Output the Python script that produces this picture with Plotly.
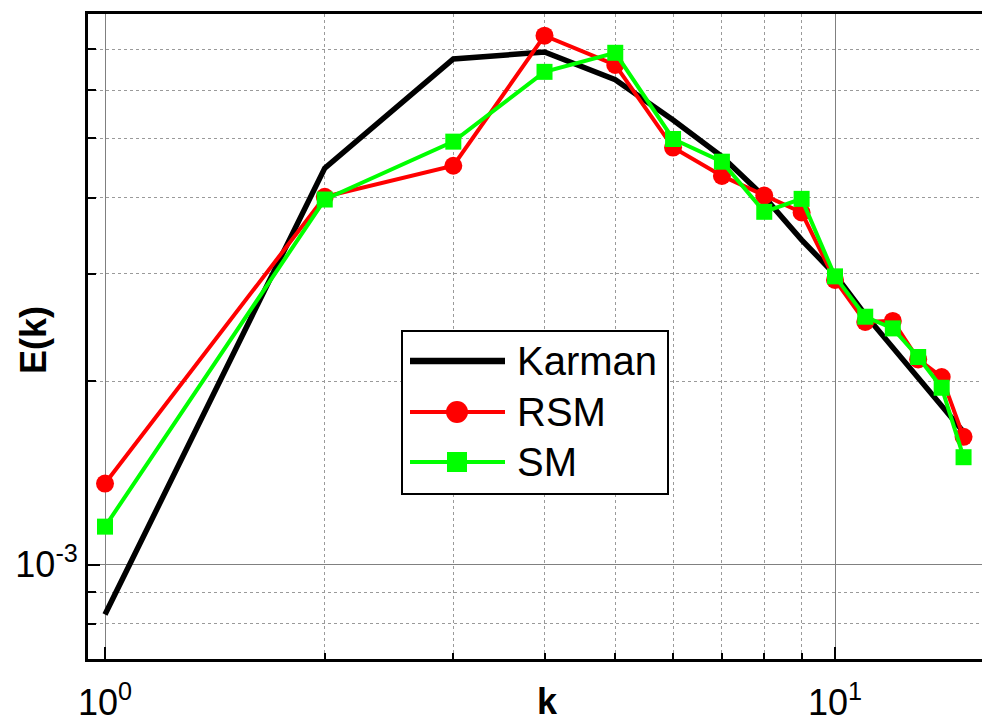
import plotly.graph_objects as go

# ---- data ----
k = [1, 2, 3, 4, 5, 6, 7, 8, 9, 10, 11, 12, 13, 14, 15]
karman = [8.28e-4, 4.47e-3, 6.75e-3, 6.93e-3, 6.24e-3, 5.36e-3, 4.67e-3, 4.01e-3,
          3.41e-3, 2.99e-3, 2.57e-3, 2.27e-3, 2.02e-3, 1.81e-3, 1.65e-3]
rsm = [1.358e-3, 4.01e-3, 4.51e-3, 7.37e-3, 6.60e-3, 4.83e-3, 4.34e-3, 4.03e-3,
       3.78e-3, 2.93e-3, 2.50e-3, 2.51e-3, 2.17e-3, 2.03e-3, 1.62e-3]
sm = [1.154e-3, 3.97e-3, 4.94e-3, 6.43e-3, 6.91e-3, 4.99e-3, 4.58e-3, 3.79e-3,
      3.98e-3, 2.97e-3, 2.55e-3, 2.44e-3, 2.19e-3, 1.95e-3, 1.50e-3]

x_major_vals = [1, 10]
x_major_text = ["10<sup>0</sup>", "10<sup>1</sup>"]
x_minor_vals = [2, 3, 4, 5, 6, 7, 8, 9]
y_major_vals = [1e-3]
y_major_text = ["10<sup>-3</sup>"]
y_minor_vals = [8e-4, 9e-4, 2e-3, 3e-3, 4e-3, 5e-3, 6e-3, 7e-3]

series_names = ["Karman", "RSM", "SM"]
x_title = "<b>k</b>"
y_title = "<b>E(k)</b>"

# page body margin of the browser (8px) is compensated here
OFF = 8
W, H = 990 - OFF, 717 - OFF
PLOT_L, PLOT_T, PLOT_B = 88, 14, 659       # reference pixel geometry
L, T = PLOT_L - OFF, PLOT_T - OFF
B = H - (PLOT_B - OFF)
R = 0
PW, PH = W - L - R, H - T - B

FONT = "Liberation Sans, Arial, sans-serif"
RED = "#FF0000"
GREEN = "#00FF00"

fig = go.Figure()
fig.add_trace(go.Scatter(x=k, y=karman, mode="lines", name=series_names[0],
                         line=dict(color="black", width=5.5)))
fig.add_trace(go.Scatter(x=k, y=rsm, mode="lines+markers", name=series_names[1],
                         line=dict(color=RED, width=4),
                         marker=dict(symbol="circle", size=18, color=RED)))
fig.add_trace(go.Scatter(x=k, y=sm, mode="lines+markers", name=series_names[2],
                         line=dict(color=GREEN, width=4),
                         marker=dict(symbol="square", size=16, color=GREEN)))


def px(xr):
    return (xr - OFF - L) / PW


def py(yr):
    return (H - B - (yr - OFF)) / PH


shapes = []
annotations = []
# legend box
shapes.append(dict(type="rect", xref="paper", yref="paper",
                   x0=px(402), x1=px(668), y0=py(494), y1=py(331),
                   line=dict(color="black", width=2), fillcolor="white", layer="above"))
legend_rows = [
    (series_names[0], 361, "black", 6.5, None),
    (series_names[1], 412, RED, 4, "circle"),
    (series_names[2], 462, GREEN, 4, "square"),
]
for name, yy, col, lw, sym in legend_rows:
    shapes.append(dict(type="line", xref="paper", yref="paper",
                       x0=px(410), x1=px(505), y0=py(yy), y1=py(yy),
                       line=dict(color=col, width=lw), layer="above"))
    if sym == "circle":
        shapes.append(dict(type="circle", xref="paper", yref="paper",
                           xsizemode="pixel", ysizemode="pixel",
                           xanchor=px(457), yanchor=py(yy),
                           x0=-11, x1=11, y0=-11, y1=11,
                           fillcolor=col, line=dict(color=col, width=0), layer="above"))
    elif sym == "square":
        shapes.append(dict(type="rect", xref="paper", yref="paper",
                           xsizemode="pixel", ysizemode="pixel",
                           xanchor=px(457), yanchor=py(yy),
                           x0=-10, x1=10, y0=-10, y1=10,
                           fillcolor=col, line=dict(color=col, width=0), layer="above"))
    annotations.append(dict(xref="paper", yref="paper", x=px(515), y=py(yy),
                            text=name, showarrow=False, xanchor="left", yanchor="middle",
                            font=dict(family=FONT, size=40, color="black")))

# axis titles
annotations.append(dict(xref="paper", yref="paper", x=px(547), y=py(701),
                        text=x_title, showarrow=False, xanchor="center", yanchor="middle",
                        font=dict(family=FONT, size=36, color="black")))
annotations.append(dict(xref="paper", yref="paper", x=px(33), y=py(340),
                        text=y_title, showarrow=False, xanchor="center", yanchor="middle",
                        textangle=-90,
                        font=dict(family=FONT, size=36, color="black")))

fig.update_layout(
    width=W, height=H,
    margin=dict(l=L, r=R, t=T, b=B, autoexpand=False),
    paper_bgcolor="white", plot_bgcolor="white",
    showlegend=False,
    shapes=shapes, annotations=annotations,
    font=dict(family=FONT, color="black"),
)

fig.update_xaxes(
    type="log", range=[-0.0233, -0.0233 + PW / 730.0],
    tickmode="array", tickvals=x_major_vals, ticktext=x_major_text,
    tickfont=dict(family=FONT, size=36, color="black"),
    ticklabelstandoff=10,
    ticks="inside", ticklen=12, tickwidth=2, tickcolor="black",
    showline=True, linecolor="black", linewidth=3, mirror=True,
    showgrid=True, gridcolor="#808080", gridwidth=1,
    minor=dict(tickmode="array", tickvals=x_minor_vals, ticks="inside", ticklen=6,
               tickwidth=2, tickcolor="black", showgrid=True, gridcolor="#9a9a9a",
               griddash="dot", gridwidth=1),
    zeroline=False, automargin=False,
)
fig.update_yaxes(
    type="log", range=[-3.1549, -2.0969],
    tickmode="array", tickvals=y_major_vals, ticktext=y_major_text,
    tickfont=dict(family=FONT, size=36, color="black"),
    ticks="inside", ticklen=12, tickwidth=2, tickcolor="black",
    showline=True, linecolor="black", linewidth=3, mirror=False,
    showgrid=True, gridcolor="#808080", gridwidth=1,
    minor=dict(tickmode="array", tickvals=y_minor_vals, ticks="inside", ticklen=8,
               tickwidth=2, tickcolor="black", showgrid=True, gridcolor="#9a9a9a",
               griddash="dot", gridwidth=1),
    zeroline=False, automargin=False,
)

fig.write_html("out.html")
